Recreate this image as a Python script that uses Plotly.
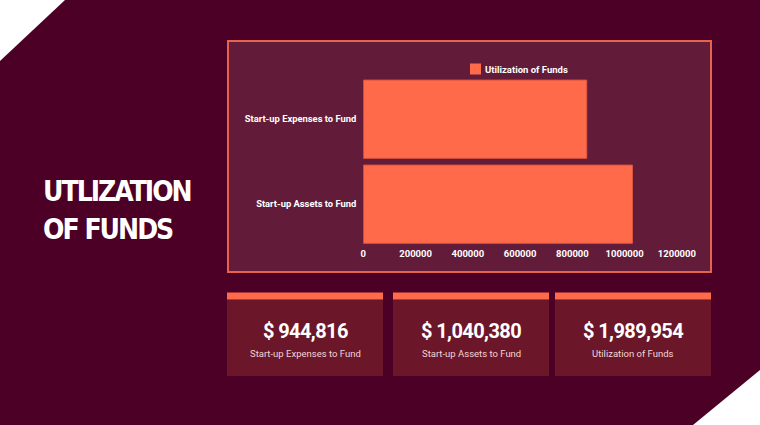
import plotly.graph_objects as go

# ---- data ----
categories = ["Start-up Expenses to Fund", "Start-up Assets to Fund"]
bar_values = [855000, 1030000]
series_name = "Utilization of Funds"
card_values = ["$ 944,816", "$ 1,040,380", "$ 1,989,954"]
card_labels = ["Start-up Expenses to Fund", "Start-up Assets to Fund", "Utilization of Funds"]
title_lines = ["UTLIZATION", "OF FUNDS"]
x_ticks = [0, 200000, 400000, 600000, 800000, 1000000, 1200000]

W, H = 760, 425
BG = "#4c0026"
PANEL = "#621b38"
CARD = "#6b1729"
CORAL = "#ff6a4a"


def px(x):
    return x / W


def py(y):
    return 1 - y / H


fig = go.Figure()
fig.add_trace(go.Bar(
    x=bar_values, y=categories, orientation="h", name=series_name,
    marker=dict(color=CORAL, line=dict(color="#d9573f", width=1)),
    showlegend=False, hoverinfo="x+y",
))

shapes = []
# white corner triangles
shapes.append(dict(type="path", xref="paper", yref="paper",
                   path=f"M 0,1 L {px(65)},1 L 0,{py(61)} Z",
                   fillcolor="white", line=dict(width=0), layer="below"))
shapes.append(dict(type="path", xref="paper", yref="paper",
                   path=f"M {px(693)},0 L 1,0 L 1,{py(370)} Z",
                   fillcolor="white", line=dict(width=0), layer="below"))
# chart panel
shapes.append(dict(type="rect", xref="paper", yref="paper",
                   x0=px(228), x1=px(711), y0=py(41), y1=py(272),
                   fillcolor=PANEL, line=dict(color="#e8634b", width=2), layer="below"))
# legend swatch
shapes.append(dict(type="rect", xref="paper", yref="paper",
                   x0=px(470), x1=px(481), y0=py(63.5), y1=py(74.5),
                   fillcolor=CORAL, line=dict(width=0)))

annotations = []
annotations.append(dict(text="<b>" + series_name + "</b>", xref="paper", yref="paper",
                        x=px(483), y=py(69), xanchor="left", yanchor="middle", showarrow=False,
                        font=dict(family="Roboto", size=9.5, color="white")))

# cards
card_x = [(227, 383), (393, 549), (555, 711)]
for (x0, x1), val, lab in zip(card_x, card_values, card_labels):
    shapes.append(dict(type="rect", xref="paper", yref="paper",
                       x0=px(x0), x1=px(x1), y0=py(299.5), y1=py(376),
                       fillcolor=CARD, line=dict(width=0), layer="below"))
    shapes.append(dict(type="rect", xref="paper", yref="paper",
                       x0=px(x0), x1=px(x1), y0=py(292.5), y1=py(299.5),
                       fillcolor=CORAL, line=dict(width=0), layer="below"))
    cx = (x0 + x1) / 2
    annotations.append(dict(text='<span style="letter-spacing:-0.6px"><b>' + val + "</b></span>",
                            xref="paper", yref="paper",
                            x=px(cx), y=py(331), xanchor="center", yanchor="middle", showarrow=False,
                            font=dict(family="Roboto", size=20, color="white")))
    annotations.append(dict(text=lab, xref="paper", yref="paper",
                            x=px(cx), y=py(353), xanchor="center", yanchor="middle", showarrow=False,
                            font=dict(family="Roboto", size=9.5, color="#f2d4d6")))

# title
for line, yc in zip(title_lines, [191.5, 230]):
    annotations.append(dict(text='<span style="letter-spacing:-2px"><b>' + line + "</b></span>",
                            xref="paper", yref="paper",
                            x=px(41), y=py(yc), xanchor="left", yanchor="middle", showarrow=False,
                            font=dict(family="DejaVu Sans Condensed", size=28, color="white")))

fig.update_layout(
    width=W, height=H, margin=dict(l=0, r=0, t=0, b=0, autoexpand=False),
    paper_bgcolor=BG, plot_bgcolor="rgba(0,0,0,0)",
    bargap=0.08, showlegend=False,
    shapes=shapes, annotations=annotations,
    xaxis=dict(domain=[px(363.3), px(676.9)], range=[0, 1200000], tickvals=x_ticks,
               tickformat="d", showgrid=False, zeroline=False, showline=False, ticks="",
               tickfont=dict(family="Roboto", size=9.5, color="white", weight="bold"),
               fixedrange=True, automargin=False),
    yaxis=dict(domain=[py(246.7), py(76.7)], categoryorder="array",
               categoryarray=categories[::-1], showgrid=False, zeroline=False, ticks="",
               tickfont=dict(family="Roboto", size=9.4, color="white", weight="bold"),
               ticklabelstandoff=6, fixedrange=True, automargin=False),
)

fig.write_html("out.html")
